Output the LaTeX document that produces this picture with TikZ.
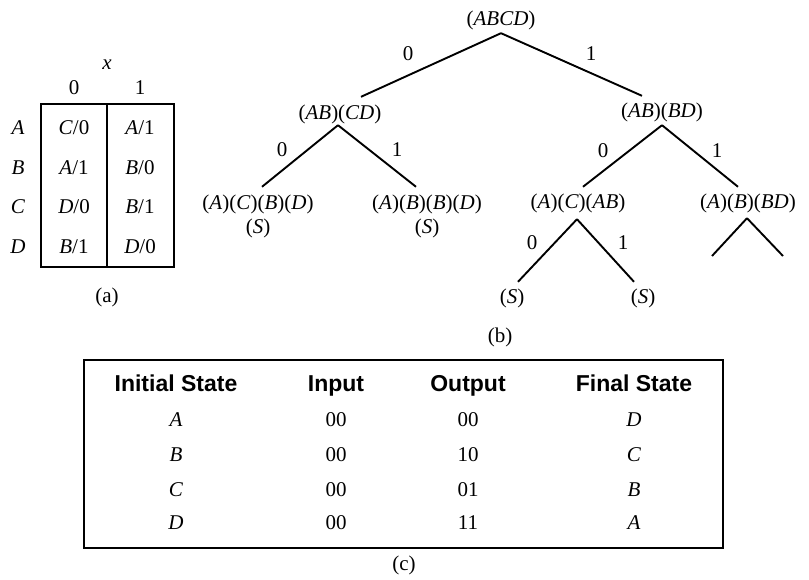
\documentclass[tikz,border=0pt]{standalone}
\usepackage{fontspec}
\setmainfont{Liberation Serif}
\setsansfont{Liberation Sans}
\usetikzlibrary{positioning}

\newcommand{\blk}[1]{(\textit{#1})}

\begin{document}
\begin{tikzpicture}[
    x=1pt, y=-1pt,
    every node/.style={font=\fontsize{21}{24}\selectfont},
    tnode/.style={inner sep=0pt,text height=15pt,text depth=5pt},
    hdr/.style={font=\fontsize{23}{26}\selectfont\sffamily\bfseries,
                text height=16pt,text depth=5pt},
    edge/.style={line width=1.9pt},
    frame/.style={line width=2pt},
  ]
  \useasboundingbox (0,0) rectangle (809,580);

  % --- (a) state table ---
  \draw[frame] (41,104) rectangle (174,267);
  \draw[frame] (107,104) -- (107,267);
  \node (xin) at (107,65) {\textit{x}};
  \node (h0) at (74,88) {0};
  \node (h1) at (140,88) {1};
  \foreach \s/\y/\na/\za/\nb/\zb in {A/128/C/0/A/1, B/168/A/1/B/0,
                                      C/207/D/0/B/1, D/247/B/1/D/0} {
    \node (r\s) at (18,\y) {\textit{\s}};
    \node (c0\s) at (74,\y) {\textit{\na}/\za};
    \node (c1\s) at (140,\y) {\textit{\nb}/\zb};
  }
  \node (capa) at (107,297) {(a)};

  % --- (b) splitting tree ---
  \node[tnode] (abcd) at (501,21)  {\blk{ABCD}};
  \node[tnode] (abcd0) at (340,115) {\blk{AB}\blk{CD}};
  \node[tnode] (abcd1) at (662,113) {\blk{AB}\blk{BD}};
  \node[tnode] (acbd) at (258,205) {\blk{A}\blk{C}\blk{B}\blk{D}};
  \node[tnode] (abbd) at (427,205) {\blk{A}\blk{B}\blk{B}\blk{D}};
  \node[tnode,below=3pt of acbd] (s1) {\blk{S}};
  \node[tnode,below=3pt of abbd] (s2) {\blk{S}};
  \node[tnode] (acab) at (578,204) {\blk{A}\blk{C}\blk{AB}};
  \node[tnode] (abbd2) at (748,204) {\blk{A}\blk{B}\blk{BD}};
  \node[tnode] (s3) at (512,298) {\blk{S}};
  \node[tnode] (s4) at (643,298) {\blk{S}};
  \coordinate (open0) at (712,256);
  \coordinate (open1) at (783,256);

  \draw[edge] ([yshift=-2pt]abcd.south) -- ([xshift=21pt,yshift=8pt]abcd0.north);
  \draw[edge] ([yshift=-2pt]abcd.south) -- ([xshift=-20pt,yshift=7pt]abcd1.north);
  \draw[edge] ([xshift=-2pt]abcd0.south) -- ([xshift=4pt,yshift=8pt]acbd.north);
  \draw[edge] ([xshift=-2pt]abcd0.south) -- ([xshift=-11pt,yshift=8pt]abbd.north);
  \draw[edge] ([yshift=-2pt]abcd1.south) -- ([xshift=5pt,yshift=7pt]acab.north);
  \draw[edge] ([yshift=-2pt]abcd1.south) -- ([xshift=-10pt,yshift=7pt]abbd2.north);
  \draw[edge] ([xshift=-1pt,yshift=-5pt]acab.south) -- ([xshift=6pt,yshift=6pt]s3.north);
  \draw[edge] ([xshift=-1pt,yshift=-5pt]acab.south) -- ([xshift=-9pt,yshift=6pt]s4.north);
  \draw[edge] ([xshift=-1pt,yshift=-4pt]abbd2.south) -- (open0);
  \draw[edge] ([xshift=-1pt,yshift=-4pt]abbd2.south) -- (open1);

  % branch labels
  \node (l0) at (408,54) {0};
  \node (l1) at (591,54) {1};
  \node (l00) at (282,150) {0};
  \node (l01) at (397,150) {1};
  \node (l10) at (603,151) {0};
  \node (l11) at (717,151) {1};
  \node (l100) at (532,243) {0};
  \node (l101) at (623,243) {1};
  \node (capb) at (500,337) {(b)};

  % --- (c) response table ---
  \draw[frame,line width=2.4pt] (84,360) rectangle (723,548);
  \node[hdr] (tinit) at (176,386) {Initial State};
  \node[hdr] (tin) at (336,386) {Input};
  \node[hdr] (tout) at (468,386) {Output};
  \node[hdr] (tfin) at (634,386) {Final State};
  \foreach \s/\o/\f/\y in {A/00/D/420, B/10/C/455, C/01/B/490, D/11/A/523} {
    \node (i\s) at (176,\y) {\textit{\s}};
    \node (n\s) at (336,\y) {00};
    \node (o\s) at (468,\y) {\o};
    \node (f\s) at (634,\y) {\textit{\f}};
  }
  \node (capc) at (404,565) {(c)};

\end{tikzpicture}
\end{document}
